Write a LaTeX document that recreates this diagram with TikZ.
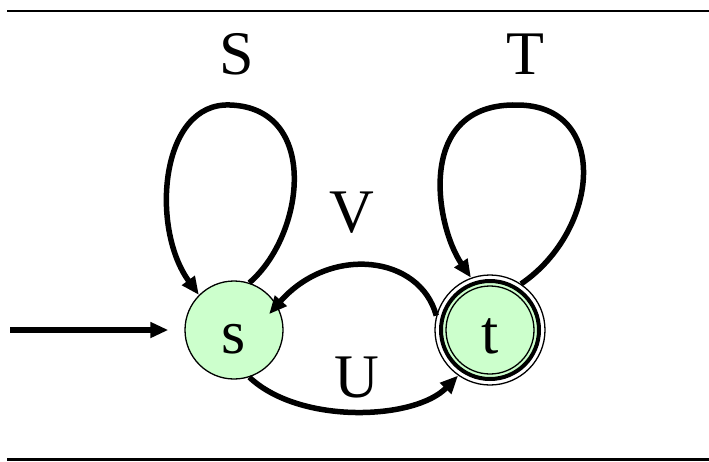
\documentclass[tikz,border=0pt]{standalone}
\usepackage{fontspec}
\setmainfont{Liberation Serif}
\usetikzlibrary{arrows.meta,backgrounds}
\definecolor{stategreen}{RGB}{204,255,204}

\begin{document}
\begin{tikzpicture}[x=1pt, y=-1pt,
  state/.style={circle, draw, line width=1.3pt, fill=stategreen, minimum size=98pt,
    inner sep=0pt, font=\fontsize{62}{70}\selectfont, text height=46pt, text depth=0pt},
  accept/.style={circle, draw, line width=1.3pt, minimum size=110pt,
    inner sep=0pt, font=\fontsize{62}{70}\selectfont, text height=46pt, text depth=0pt},
  trans/.style={line width=5.5pt, -{Triangle[length=18pt,width=15pt]}},
  lbl/.style={font=\fontsize{62}{70}\selectfont, inner sep=0pt},
  rule/.style={line width=2.7pt}
]
\useasboundingbox (0,0) rectangle (709,461);

% Rules above and below
\coordinate (topL) at (7,11);
\coordinate (topR) at (709,11);
\coordinate (botL) at (7,459);
\coordinate (botR) at (709,459);
\draw[rule] (topL) -- (topR);
\draw[rule, line width=3pt] (botL) -- (botR);

% States
\node[state] (s) at (234,330) {s};
\node[accept] (t) at (490,330) {t};

% Inner rings of the accepting state
\begin{scope}[on background layer]
  \draw[line width=4pt, fill=stategreen] (t.center) circle (49pt);
  \draw[line width=1.3pt] (t.center) circle (44pt);
\end{scope}

% Start arrow
\coordinate (entry) at (10,330);
\draw[trans, shorten >=16pt] (entry) -- (s.west);

% Self loops
\draw[trans] (s.72) .. controls (305,235) and (320,108) .. (230,105)
  .. controls (160,102) and (150,228) .. (s.135);
\draw[trans] (t.56) .. controls (600,230) and (610,105) .. (517,105)
  .. controls (415,103) and (435,225) .. (t.110);

% Between s and t
\draw[trans, shorten >=-12pt] (t.165) .. controls (420,255) and (330,245) .. (s.30);
\draw[trans] (s.288) .. controls (300,425) and (415,420) .. (t.235);

% Labels
\node[lbl] (lblS) at (237,54) {S};
\node[lbl] (lblT) at (525,54) {T};
\node[lbl] (lblV) at (352,213) {V};
\node[lbl] (lblU) at (357,377) {U};
\end{tikzpicture}
\end{document}
